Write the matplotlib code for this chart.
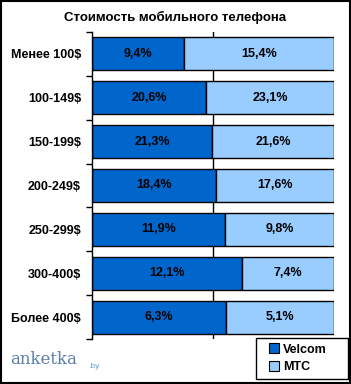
import matplotlib
matplotlib.use("Agg")
import matplotlib.pyplot as plt
from matplotlib.lines import Line2D
import numpy as np

categories = ["Менее 100$", "100-149$", "150-199$", "200-249$", "250-299$", "300-400$", "Более 400$"]
velcom = [9.4, 20.6, 21.3, 18.4, 11.9, 12.1, 6.3]
mts = [15.4, 23.1, 21.6, 17.6, 9.8, 7.4, 5.1]
series_names = ["Velcom", "МТС"]
colors = ["#0066CC", "#99CCFF"]

plt.rcParams['font.family'] = ['Liberation Sans', 'DejaVu Sans']

fig = plt.figure(figsize=(3.51, 3.84), dpi=100)
ax = fig.add_axes([92 / 351, 1 - 339 / 384, 242 / 351, 307 / 384])

v = np.array(velcom)
m = np.array(mts)
tot = v + m
vs = v / tot
ms = m / tot
y = np.arange(len(categories))

ax.axvline(0.5, color="black", lw=1, zorder=0)
b1 = ax.barh(y, vs, height=0.75, color=colors[0], edgecolor="black", lw=1, label=series_names[0])
b2 = ax.barh(y, ms, left=vs, height=0.75, color=colors[1], edgecolor="black", lw=1, label=series_names[1])

for i in range(len(categories)):
    ax.text(vs[i] / 2, y[i], f"{velcom[i]:.1f}%".replace(".", ","), ha="center", va="center",
            fontsize=9, fontweight="bold")
    ax.text(vs[i] + ms[i] / 2, y[i], f"{mts[i]:.1f}%".replace(".", ","), ha="center", va="center",
            fontsize=9, fontweight="bold")

ax.set_xlim(0, 1)
ax.set_ylim(len(categories) - 0.5, -0.5)
ax.set_xticks([])
ax.set_yticks(y)
ax.set_yticklabels(categories, fontsize=9, fontweight="bold")
ax.tick_params(axis="y", length=0, pad=8)
ax.set_yticks(np.arange(-0.5, len(categories)), minor=True)
ax.tick_params(axis="y", which="minor", length=4, width=1, direction="out")
for s in ["top", "right", "bottom"]:
    ax.spines[s].set_visible(False)
ax.spines["left"].set_linewidth(1)

fig.text(175 / 351, 1 - 17 / 384, "Стоимость мобильного телефона", ha="center", va="center",
         fontsize=9.5, fontweight="bold")

# legend frame drawn separately to get wide padding like the original
fig.patches.append(plt.Rectangle((256 / 351, 1 - 379 / 384), 92 / 351, 41 / 384,
                                 transform=fig.transFigure, fill=True, facecolor="white",
                                 edgecolor="black", lw=1, zorder=2))
handles = [Line2D([], [], marker="s", ls="", markersize=7, markerfacecolor=c,
                  markeredgecolor="black", markeredgewidth=0.8) for c in colors]
leg = fig.legend(handles, series_names, loc="center left", bbox_to_anchor=(268 / 351, 1 - 358.5 / 384),
                 frameon=False, prop={"weight": "bold", "size": 9}, handlelength=0.9,
                 handletextpad=0.3, borderpad=0, labelspacing=0.45, borderaxespad=0)
leg.set_zorder(3)

fig.text(10 / 351, 1 - 360 / 384, "anketka", fontsize=12, color="#5a7fa8", ha="left", va="center",
         family="DejaVu Serif")
fig.text(88 / 351, 1 - 367 / 384, ".by", fontsize=6, color="#5a9fd8", ha="left", va="center")

fig.patches.append(plt.Rectangle((0.002, 0.002), 0.996, 0.996, transform=fig.transFigure,
                                 fill=False, edgecolor="black", lw=1.5))

fig.savefig("out.png", dpi=100)
